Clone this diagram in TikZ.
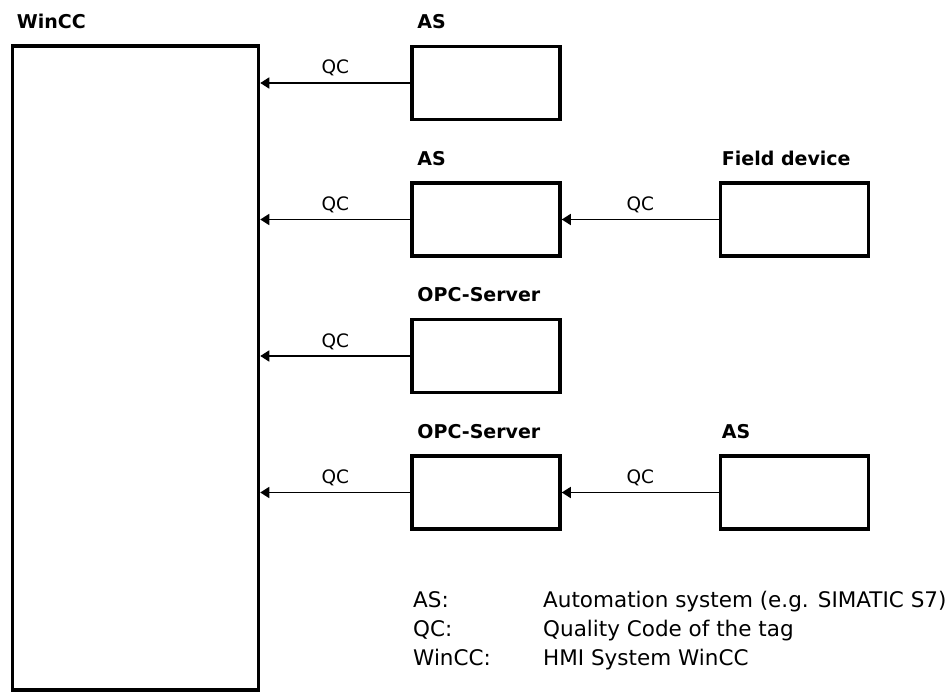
\documentclass[tikz,border=0pt]{standalone}
\usepackage{fontspec}
\setmainfont{DejaVu Sans}
\usetikzlibrary{arrows.meta, positioning}

\begin{document}
\begin{tikzpicture}[
  x=1pt, y=-1pt,
  node distance=60pt and 157pt,
  unitbox/.style={rectangle, draw=black, line width=3.5pt, minimum width=148pt,
                  minimum height=73pt, inner sep=0pt},
  hmibox/.style={rectangle, draw=black, line width=3.5pt, minimum width=246pt,
                 minimum height=644pt, inner sep=0pt},
  conn/.style={-{Triangle[length=9pt,width=11pt]}, line width=1.6pt},
  unitlbl/.style={font=\fontsize{19}{22}\selectfont\bfseries, inner sep=0pt, anchor=base west},
  qclbl/.style={font=\fontsize{18.5}{22}\selectfont, inner sep=0pt, anchor=base, yshift=9pt},
  keytext/.style={font=\fontsize{21.5}{26}\selectfont, inner sep=0pt, anchor=base west}
]
\useasboundingbox (0,0) rectangle (952,692);

% --- WinCC ---
\node[hmibox] (wincc) at (135.5,368) {};

% --- Units ---
\node[unitbox] (as1) at (486,83) {};
\node[unitbox, below=of as1] (as2) {};
\node[unitbox, below=of as2] (opc1) {};
\node[unitbox, below=of opc1] (opc2) {};
\node[unitbox, right=of as2] (field) {};
\node[unitbox, right=of opc2] (as3) {};

% --- Titles ---
\node[unitlbl] (wincclbl) at ([shift={(6pt,16pt)}]wincc.north west) {WinCC};
\node[unitlbl] (as1lbl) at ([shift={(7pt,16pt)}]as1.north west) {AS};
\node[unitlbl] (as2lbl) at ([shift={(7pt,16pt)}]as2.north west) {AS};
\node[unitlbl] (opc1lbl) at ([shift={(7pt,16pt)}]opc1.north west) {OPC-Server};
\node[unitlbl] (opc2lbl) at ([shift={(7pt,16pt)}]opc2.north west) {OPC-Server};
\node[unitlbl] (fieldlbl) at ([shift={(3pt,16pt)}]field.north west) {Field device};
\node[unitlbl] (as3lbl) at ([shift={(3pt,16pt)}]as3.north west) {AS};

% --- Arrows ---
\draw[conn] (as1.west) -- (as1.west -| wincc.east) node[qclbl, midway] {QC};
\draw[conn] (as2.west) -- (as2.west -| wincc.east) node[qclbl, midway] {QC};
\draw[conn] (opc1.west) -- (opc1.west -| wincc.east) node[qclbl, midway] {QC};
\draw[conn] (opc2.west) -- (opc2.west -| wincc.east) node[qclbl, midway] {QC};
\draw[conn] (field.west) -- (as2.east) node[qclbl, midway] {QC};
\draw[conn] (as3.west) -- (opc2.east) node[qclbl, midway] {QC};

% --- Legend ---
\node[keytext] (keyas) at (413,607) {AS:};
\node[keytext] (keyqc) at (413,636) {QC:};
\node[keytext] (keywincc) at (413,665) {WinCC:};
\node[keytext] (descas) at (543,607) {Automation system (e.g. SIMATIC S7)};
\node[keytext] (descqc) at (543,636) {Quality Code of the tag};
\node[keytext] (descwincc) at (543,665) {HMI System WinCC};

\end{tikzpicture}
\end{document}
